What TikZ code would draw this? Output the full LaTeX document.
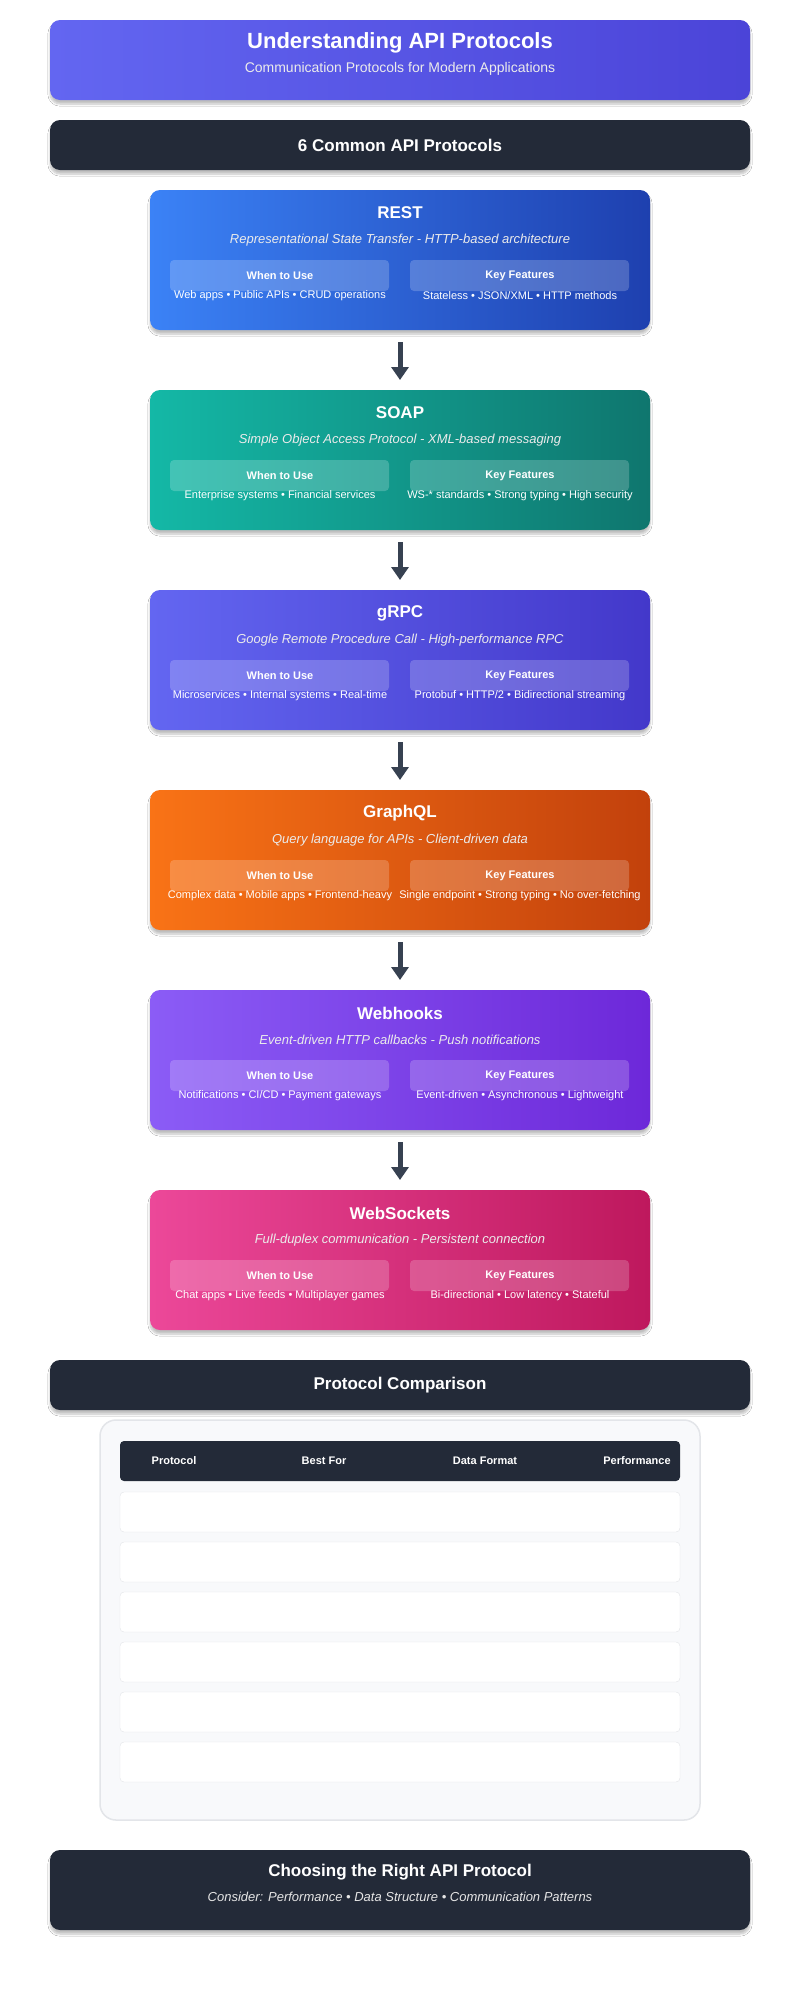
\documentclass[tikz,border=0pt]{standalone}
\usepackage{fontspec}
\setmainfont{Liberation Sans}
\usetikzlibrary{shadows.blur,arrows.meta}
\definecolor{dark}{HTML}{232A38}
\definecolor{arrowc}{HTML}{374151}
\definecolor{tA}{HTML}{6366F1}\definecolor{tB}{HTML}{4B44D8}
\definecolor{rA}{HTML}{3B82F6}\definecolor{rB}{HTML}{1E40AF}
\definecolor{sA}{HTML}{14B8A6}\definecolor{sB}{HTML}{0F766E}
\definecolor{gA}{HTML}{6366F1}\definecolor{gB}{HTML}{4338CA}
\definecolor{qA}{HTML}{F97316}\definecolor{qB}{HTML}{C2410C}
\definecolor{wA}{HTML}{8B5CF6}\definecolor{wB}{HTML}{6D28D9}
\definecolor{kA}{HTML}{EC4899}\definecolor{kB}{HTML}{BE185D}
\definecolor{panel}{HTML}{F8F9FB}
\definecolor{panelb}{HTML}{E3E5E9}
\tikzset{
  x=1pt,y=-1pt,
  shad/.style={blur shadow={shadow xshift=0pt,shadow yshift=-4pt,shadow blur steps=6,shadow opacity=25}},
  card/.style={rounded corners=10pt,shad},
  inner/.style={fill=white,fill opacity=0.2,rounded corners=4pt,draw=none},
  ttl/.style={text=white,font=\bfseries\fontsize{17}{20}\selectfont},
  sub/.style={text=white!92!black,font=\itshape\fontsize{13}{15}\selectfont},
  lab/.style={text=white,font=\bfseries\fontsize{11}{13}\selectfont},
  desc/.style={text=white,font=\fontsize{11}{13}\selectfont},
  flow/.style={arrowc,line width=5pt,shorten <=12pt,shorten >=10pt,-{Triangle[width=17pt,length=13pt]}},
  row/.style={fill=white,draw=panelb,rounded corners=4pt},
  th/.style={text=white,font=\bfseries\fontsize{11}{13}\selectfont},
  hdr/.style={text=white,font=\bfseries\fontsize{17}{20}\selectfont},
}
\newcommand\apicard[8]{%
  \shade[card,left color=#3,right color=#4] (150,#2) rectangle (650,#2+140);
  \coordinate (#1) at (400,#2);
  \coordinate (#1b) at (400,#2+140);
  \node[ttl] (#1t) at (400,#2+23) {#5};
  \node[sub] (#1s) at (400,#2+50) {#6};
  \fill[inner] (170,#2+70) rectangle (389,#2+101);
  \fill[inner] (410,#2+70) rectangle (629,#2+101);
  \node[lab] (#1w) at (280,#2+86) {When to Use};
  \node[lab] (#1k) at (520,#2+86) {Key Features};
  \node[desc] (#1wd) at (280,#2+106) {#7};
  \node[desc] (#1kd) at (520,#2+106) {#8};
}
\begin{document}
\begin{tikzpicture}
\useasboundingbox (0,0) rectangle (800,2000);
\fill[white] (0,0) rectangle (800,2000);
% title
\shade[card,left color=tA,right color=tB] (50,20) rectangle (750,100);
\node[text=white,font=\bfseries\fontsize{22}{26}\selectfont] (title) at (400,43) {Understanding API Protocols};
\node[text=white!92!black,font=\fontsize{14}{17}\selectfont] (subtitle) at (400,69) {Communication Protocols for Modern Applications};
% section
\fill[card,dark] (50,120) rectangle (750,170);
\node[hdr] (sec1) at (400,145) {6 Common API Protocols};
% cards
\apicard{rest}{190}{rA}{rB}{REST}{Representational State Transfer - HTTP-based architecture}{Web apps • Public APIs • CRUD operations}{Stateless • JSON/XML • HTTP methods}
\apicard{soap}{390}{sA}{sB}{SOAP}{Simple Object Access Protocol - XML-based messaging}{Enterprise systems • Financial services}{WS-* standards • Strong typing • High security}
\apicard{grpc}{590}{gA}{gB}{gRPC}{Google Remote Procedure Call - High-performance RPC}{Microservices • Internal systems • Real-time}{Protobuf • HTTP/2 • Bidirectional streaming}
\apicard{gql}{790}{qA}{qB}{GraphQL}{Query language for APIs - Client-driven data}{Complex data • Mobile apps • Frontend-heavy}{Single endpoint • Strong typing • No over-fetching}
\apicard{hook}{990}{wA}{wB}{Webhooks}{Event-driven HTTP callbacks - Push notifications}{Notifications • CI/CD • Payment gateways}{Event-driven • Asynchronous • Lightweight}
\apicard{ws}{1190}{kA}{kB}{WebSockets}{Full-duplex communication - Persistent connection}{Chat apps • Live feeds • Multiplayer games}{Bi-directional • Low latency • Stateful}
\draw[flow] (restb) -- (soap);
\draw[flow] (soapb) -- (grpc);
\draw[flow] (grpcb) -- (gql);
\draw[flow] (gqlb) -- (hook);
\draw[flow] (hookb) -- (ws);
% comparison
\fill[card,dark] (50,1360) rectangle (750,1410);
\node[hdr] (sec2) at (400,1385) {Protocol Comparison};
\filldraw[fill=panel,draw=panelb,line width=1.5pt,rounded corners=16pt] (100,1420) rectangle (700,1820);
\fill[dark,rounded corners=4pt] (120,1441) rectangle (680,1481);
\node[th] (c1) at (174,1461) {Protocol};
\node[th] (c2) at (324,1461) {Best For};
\node[th] (c3) at (485,1461) {Data Format};
\node[th] (c4) at (637,1461) {Performance};
\foreach \i in {0,...,5}{
  \filldraw[row] (120,1492+\i*50) rectangle (680,1532+\i*50);
}
% footer
\fill[card,dark] (50,1850) rectangle (750,1930);
\node[hdr] (foot) at (400,1872) {Choosing the Right API Protocol};
\node[text=white!90!black,font=\itshape\fontsize{13}{15}\selectfont] (footsub) at (400,1897) {Consider: Performance • Data Structure • Communication Patterns};
\end{tikzpicture}
\end{document}
